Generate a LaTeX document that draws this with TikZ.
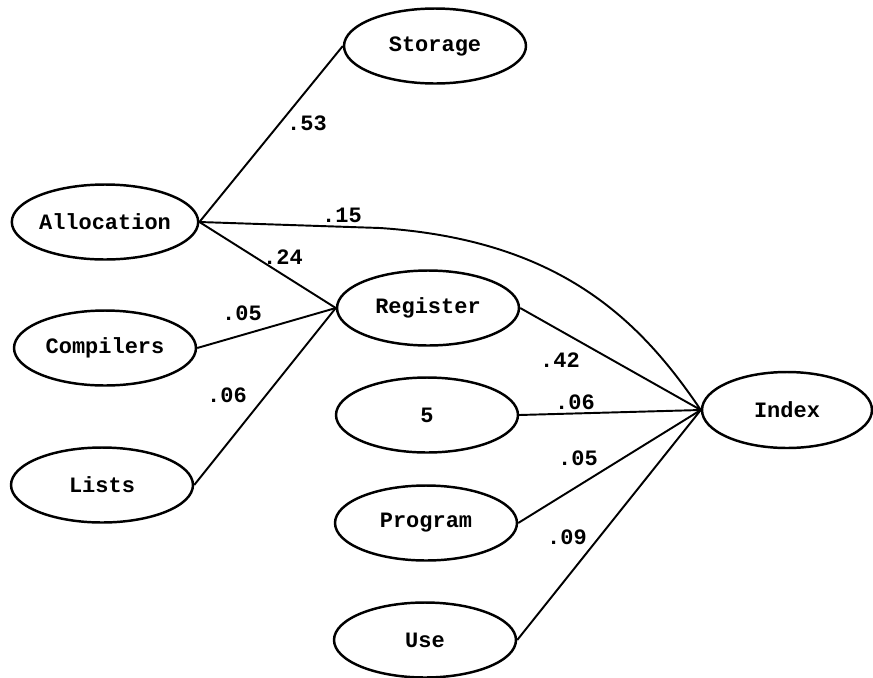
\documentclass[tikz,border=0pt]{standalone}
\usepackage{fontspec}
\setmonofont{Liberation Mono}
\usetikzlibrary{shapes.geometric}

\begin{document}
\begin{tikzpicture}[
    x=0.02cm, y=-0.02cm,
    term/.style={draw, ellipse, line width=1.4pt, minimum width=3.64cm, minimum height=1.5cm, inner sep=0pt, font=\ttfamily\bfseries\fontsize{12.5}{15}\selectfont},
    link/.style={line width=1.1pt},
    weight/.style={inner sep=1pt, font=\ttfamily\bfseries\fontsize{12.5}{15}\selectfont}
]
    \fill[white] (0,0) rectangle (873,677);
    \useasboundingbox (0,0) rectangle (873,677);

    % left column
    \node[term] (alloc) at (105,222) {Allocation};
    \node[term] (compilers) at (105,348) {Compilers};
    \node[term] (lists) at (102,485) {Lists};

    % middle column
    \node[term] (storage) at (435,46) {Storage};
    \node[term] (register) at (428,308) {Register};
    \node[term] (five) at (427,415) {5};
    \node[term] (program) at (426,523) {Program};
    \node[term] (use) at (425,640) {Use};

    % right
    \node[term, minimum width=3.4cm, minimum height=1.52cm] (index) at (787,410) {Index};

    % connectors
    \draw[link] (alloc.east) -- (storage.west);
    \draw[link] (alloc.east) -- (register.west);
    \draw[link] (alloc.east) -- (380,228) .. controls (560,240) and (640,320) .. (index.west);
    \draw[link] (compilers.east) -- (register.west);
    \draw[link] (lists.east) -- (register.west);
    \draw[link] (register.east) -- (index.west);
    \draw[link] (five.east) -- (index.west);
    \draw[link] (program.east) -- (index.west);
    \draw[link] (use.east) -- (index.west);

    % weights
    \node[weight] (w53) at (307,123) {.53};
    \node[weight] (w15) at (342,215) {.15};
    \node[weight] (w24) at (283,257) {.24};
    \node[weight] (w05a) at (242,313) {.05};
    \node[weight] (w06a) at (227,395) {.06};
    \node[weight] (w42) at (560,360) {.42};
    \node[weight] (w06b) at (575,402) {.06};
    \node[weight] (w05b) at (578,458) {.05};
    \node[weight] (w09) at (567,537) {.09};
\end{tikzpicture}
\end{document}
